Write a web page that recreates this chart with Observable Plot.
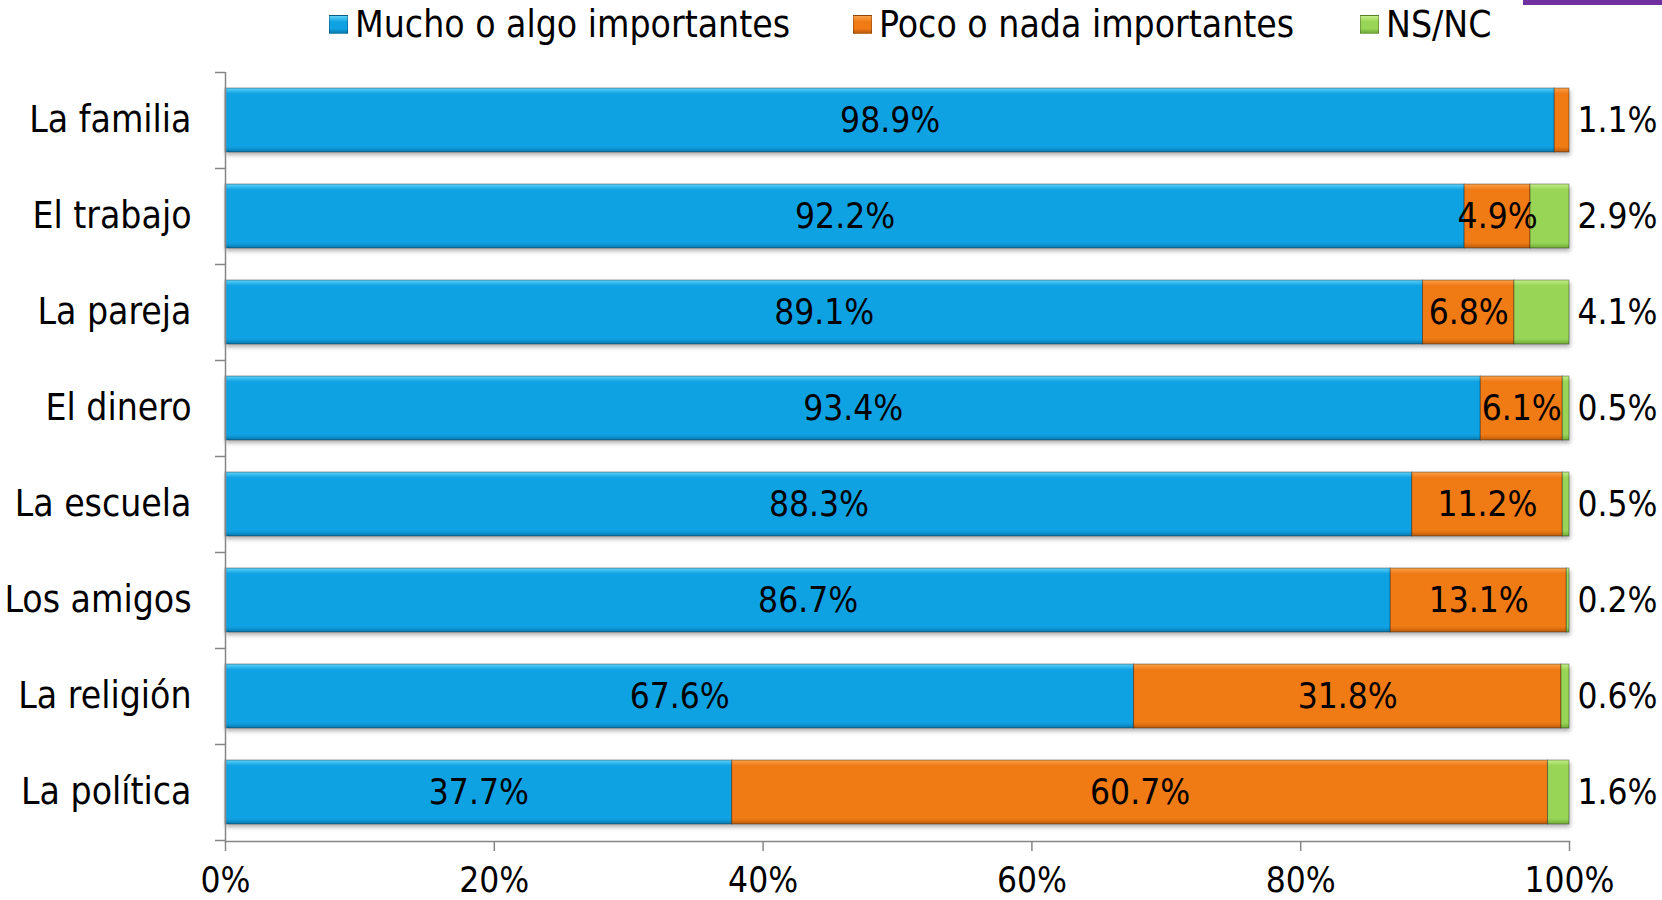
<!DOCTYPE html>
<html><head><meta charset="utf-8">
<script src="https://cdn.jsdelivr.net/npm/d3@7"></script>
<script src="https://cdn.jsdelivr.net/npm/@observablehq/plot@0.6"></script>
<style>
html,body{margin:0;padding:0;background:#fff;}
body{width:1662px;height:900px;position:relative;overflow:hidden;font-family:"DejaVu Sans Condensed","DejaVu Sans",sans-serif;font-stretch:condensed;}
#legend{height:48px;position:relative;}
.item{position:absolute;top:0;height:48px;display:flex;align-items:center;font-size:37px;color:#000;white-space:nowrap;}
.sw{width:19px;height:19px;margin-right:7px;box-sizing:border-box;border:1px solid rgba(0,0,0,0.25);}
#topbar{position:absolute;left:1523px;top:0;width:139px;height:5px;background:#7030A0;}
#chart svg{display:block;}
</style></head>
<body>
<div id="topbar"></div>
<div id="legend"></div>
<div id="chart"></div>
<script>
const categories = ["La familia","El trabajo","La pareja","El dinero","La escuela","Los amigos","La religión","La política"];
const mucho = [98.9, 92.2, 89.1, 93.4, 88.3, 86.7, 67.6, 37.7];
const poco  = [1.1, 4.9, 6.8, 6.1, 11.2, 13.1, 31.8, 60.7];
const nsnc  = [0, 2.9, 4.1, 0.5, 0.5, 0.2, 0.6, 1.6];
const seriesNames = ["Mucho o algo importantes","Poco o nada importantes","NS/NC"];
const seriesColors = ["#0FA2E3","#F07A14","#98D455"];
const seriesLight = ["#5FD0F7","#F9A04A","#C2EE8A"];
const seriesDark = ["#0A78AC","#B85A0C","#6FA83A"];
const xTicks = [0,20,40,60,80,100];

const fmt = v => v.toFixed(1) + "%";
const FONT = '"DejaVu Sans Condensed","DejaVu Sans",sans-serif';

// legend
const legendLeft = [329, 853, 1360];
const legend = document.getElementById("legend");
seriesNames.forEach((s,i)=>{
  const it = document.createElement("div");
  it.className = "item";
  it.style.left = legendLeft[i] + "px";
  const sw = document.createElement("span");
  sw.className = "sw";
  sw.style.background = `linear-gradient(${seriesLight[i]} 0%, ${seriesColors[i]} 35%, ${seriesColors[i]} 75%, ${seriesDark[i]} 100%)`;
  it.appendChild(sw);
  it.appendChild(document.createTextNode(s));
  legend.appendChild(it);
});

const table = categories.flatMap((c,i)=>[
  {cat:c, series:seriesNames[0], value:mucho[i], label: fmt(mucho[i])},
  {cat:c, series:seriesNames[1], value:poco[i], label: poco[i] >= 3 ? fmt(poco[i]) : ""},
  {cat:c, series:seriesNames[2], value:nsnc[i], label: ""}
]);
const outside = categories.map((c,i)=>({
  cat:c,
  total: mucho[i]+poco[i]+nsnc[i],
  label: nsnc[i] > 0 ? fmt(nsnc[i]) : (poco[i] < 3 ? fmt(poco[i]) : "")
}));

const gradIds = seriesNames.map((s,i)=>`url(#grad${i})`);

const chart = Plot.plot({
  width:1662, height:852,
  marginTop:24, marginBottom:59, marginLeft:225, marginRight:93,
  style:{fontFamily:FONT, fontSize:"35px", color:"#000", background:"#fff"},
  x:{domain:[0,100]},
  y:{domain:categories, paddingInner:0.333, paddingOuter:0.1667},
  color:{domain:seriesNames, range:gradIds},
  marks:[
    Plot.barX(table, {y:"cat", x:"value", fill:"series", order:seriesNames, stroke:"rgba(0,0,0,0.35)", strokeWidth:1}),
    Plot.text(table, Plot.stackX({y:"cat", x:"value", z:"series", order:seriesNames, text:"label", fill:"#000", fontSize:35})),
    Plot.text(outside, {y:"cat", x:"total", text:"label", textAnchor:"start", dx:8, fill:"#000", fontSize:35}),
    Plot.ruleX([0], {stroke:"#868686", strokeWidth:1.5}),
    Plot.frame({anchor:"bottom", stroke:"#868686", strokeWidth:1.5}),
    Plot.axisY({tickSize:10, dy:-48, stroke:"#868686", strokeWidth:1.5, fill:"none", label:null}),
    Plot.axisY([categories[categories.length-1]], {tickSize:10, dy:48, stroke:"#868686", strokeWidth:1.5, fill:"none", label:null}),
    Plot.axisY({tickSize:0, tickPadding:34, fill:"#000", fontSize:37, label:null}),
    Plot.axisX(xTicks, {tickSize:10, tickPadding:16, stroke:"#868686", strokeWidth:1.5, fill:"#000", fontSize:35, tickFormat:d=>d+"%", label:null})
  ]
});

// gradients for bevel look
const svg = d3.select(chart);
const defs = svg.insert("defs", ":first-child");
seriesNames.forEach((s,i)=>{
  const g = defs.append("linearGradient").attr("id", `grad${i}`).attr("x1",0).attr("y1",0).attr("x2",0).attr("y2",1);
  g.append("stop").attr("offset","0%").attr("stop-color", seriesLight[i]);
  g.append("stop").attr("offset","9%").attr("stop-color", seriesColors[i]);
  g.append("stop").attr("offset","92%").attr("stop-color", seriesColors[i]);
  g.append("stop").attr("offset","100%").attr("stop-color", seriesDark[i]);
});
svg.selectAll('g[aria-label="bar"]').style("filter","drop-shadow(1px 3px 2px rgba(0,0,0,0.3))");

document.getElementById("chart").appendChild(chart);
</script>
</body></html>
